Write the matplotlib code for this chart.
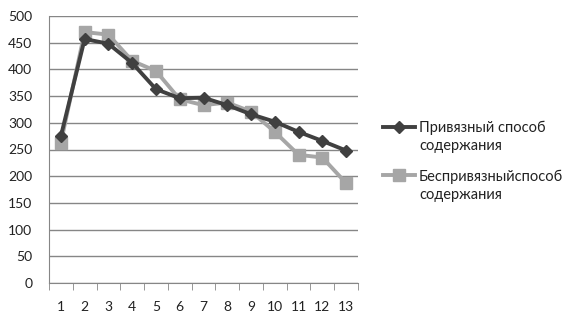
import matplotlib.pyplot as plt
import numpy as np

plt.rcParams['font.family'] = ['Lato', 'DejaVu Sans']

categories = [str(i) for i in range(1, 14)]
tethered = [275, 457, 448, 412, 363, 346, 347, 333, 316, 302, 283, 266, 248]
untethered = [263, 470, 465, 416, 397, 344, 333, 338, 321, 283, 240, 235, 187]
labels = ['Привязный способ', 'Беспривязныйспособ']
label_tail = 'содержания'

W, H = 580, 323
fig = plt.figure(figsize=(W / 100, H / 100), dpi=100)
ax = fig.add_axes([49 / W, 1 - 283 / H, 309 / W, 267 / H])

x = np.arange(len(categories))
ax.plot(x, tethered, color='#404040', lw=2.8, marker='D', ms=6.5, label=labels[0], zorder=3)
ax.plot(x, untethered, color='#a6a6a6', lw=2.8, marker='s', ms=9, label=labels[1], zorder=2)

ax.set_xlim(-0.5, len(categories) - 0.5)
ax.set_ylim(0, 500)
ax.set_yticks(range(0, 501, 50))
ax.set_xticks(x)
ax.set_xticklabels(categories)
ax.set_xticks(np.arange(-0.5, len(categories), 1), minor=True)
ax.tick_params(axis='x', which='major', length=0, pad=13, labelsize=10, labelcolor='#222222')
ax.tick_params(axis='x', which='minor', length=5, color='#868686')
ax.tick_params(axis='y', length=0, pad=12, labelsize=10, labelcolor='#222222')
ax.grid(axis='y', color='#868686', lw=1)
ax.set_axisbelow(True)
for s in ['top', 'right']:
    ax.spines[s].set_visible(False)
ax.spines['left'].set_color('#868686')
ax.spines['bottom'].set_color('#868686')

leg = fig.legend(loc='upper left', bbox_to_anchor=(371 / W, 1 - 109 / H), frameon=False,
                 fontsize=10.5, handlelength=2.2, labelspacing=2.35, handletextpad=0.3,
                 labelcolor='#222222', borderpad=0.3)

# second line of each legend label sits under the first, as in Excel
fig.canvas.draw()
for t in leg.get_texts():
    bb = t.get_window_extent()
    fig.text(bb.x0 / W, (bb.y0 - 4) / H, label_tail, fontsize=10.5, color='#222222',
             va='top', ha='left')

fig.savefig('out.png', dpi=100)
